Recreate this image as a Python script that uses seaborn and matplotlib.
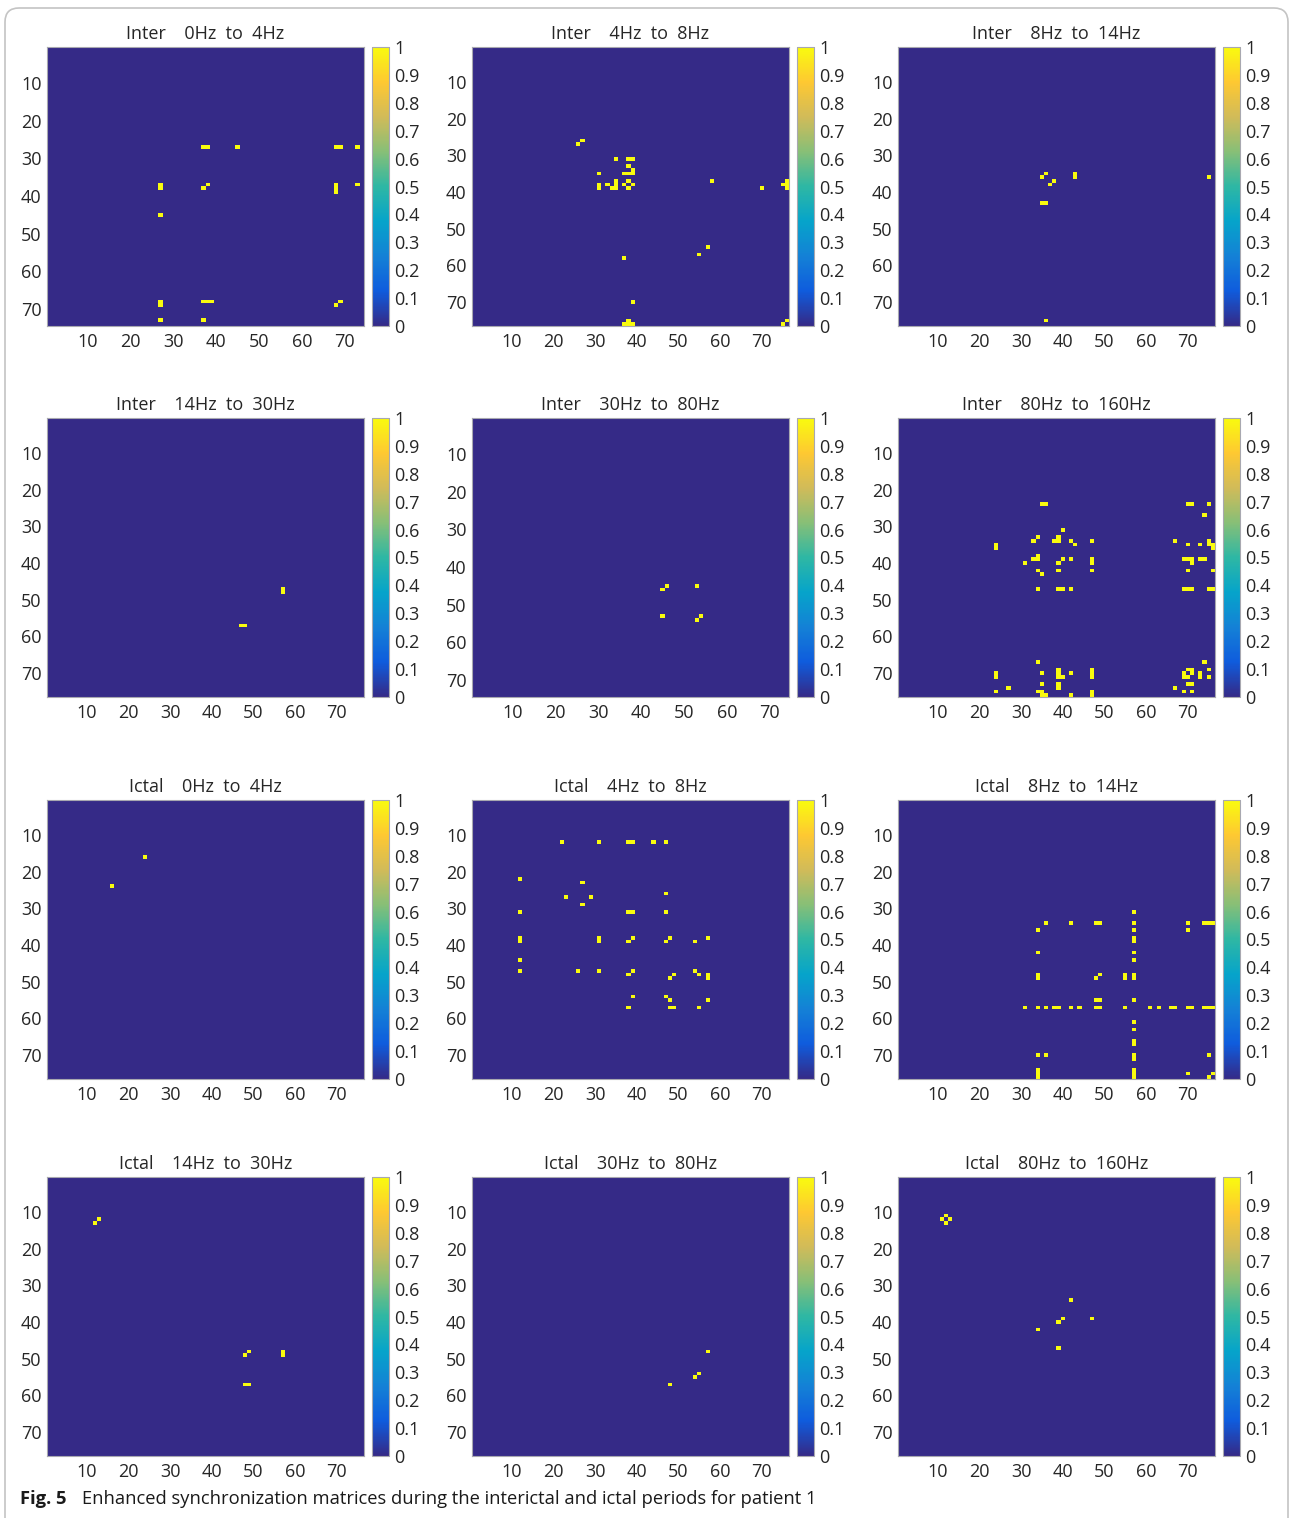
import numpy as np
import matplotlib
matplotlib.use("Agg")
import matplotlib.pyplot as plt
import seaborn as sns
from matplotlib.colors import LinearSegmentedColormap
from matplotlib.patches import FancyBboxPatch
from matplotlib.transforms import IdentityTransform

sns.set_theme(style="white")
plt.rcParams['font.family'] = ['Open Sans', 'DejaVu Sans']

# ---------------- data ----------------
titles = [
    "Inter    0Hz  to  4Hz", "Inter    4Hz  to  8Hz", "Inter    8Hz  to  14Hz",
    "Inter    14Hz  to  30Hz", "Inter    30Hz  to  80Hz", "Inter    80Hz  to  160Hz",
    "Ictal    0Hz  to  4Hz", "Ictal    4Hz  to  8Hz", "Ictal    8Hz  to  14Hz",
    "Ictal    14Hz  to  30Hz", "Ictal    30Hz  to  80Hz", "Ictal    80Hz  to  160Hz",
]
matrix_sizes = [74, 76, 76, 76, 74, 76, 76, 76, 76, 76, 76, 76]

# synchronised channel pairs (1-based channel indices), matrices are symmetric
inter_0_4 = [(27, 37), (27, 38), (27, 45), (27, 68), (27, 69), (27, 73), (37, 38),
             (37, 68), (38, 68), (39, 68), (37, 73), (68, 69)]
inter_4_8 = [(26, 27), (31, 35), (31, 38), (31, 39), (33, 38), (34, 39), (35, 37),
             (35, 38), (35, 39), (37, 38), (38, 39), (37, 58), (39, 70), (38, 75),
             (37, 76), (38, 76), (39, 76), (55, 57), (75, 76)]
inter_8_14 = [(35, 36), (37, 38), (35, 43), (36, 43), (36, 75)]
inter_14_30 = [(47, 57), (48, 57)]
inter_30_80 = [(45, 46), (45, 53), (53, 54)]
inter_80_160 = [(24, 35), (24, 36), (24, 70), (24, 71), (24, 75), (27, 74), (31, 40),
                (33, 34), (33, 39), (34, 38), (34, 39), (34, 42), (34, 47), (34, 67),
                (34, 75), (35, 43), (35, 70), (35, 73), (35, 75), (35, 76), (36, 76),
                (39, 40), (39, 42), (39, 47), (39, 69), (39, 70), (39, 71), (39, 73),
                (39, 74), (40, 47), (40, 71), (42, 47), (42, 70), (42, 76), (47, 69),
                (47, 70), (47, 71), (47, 75), (47, 76), (67, 74), (69, 70), (69, 71),
                (70, 71), (70, 73), (71, 73), (69, 75), (71, 75)]
ictal_0_4 = [(16, 24)]
ictal_4_8 = [(12, 22), (12, 31), (12, 38), (12, 39), (12, 44), (12, 47), (23, 27),
             (26, 47), (27, 29), (31, 38), (31, 39), (31, 47), (38, 39), (38, 48),
             (38, 57), (39, 47), (39, 54), (47, 54), (48, 49), (48, 55), (48, 57),
             (49, 57), (55, 57)]
ictal_8_14 = [(31, 57), (34, 36), (34, 42), (34, 48), (34, 49), (34, 57), (34, 70),
              (34, 74), (34, 75), (34, 76), (36, 57), (36, 70), (38, 57), (39, 57),
              (42, 57), (44, 57), (48, 49), (48, 55), (49, 55), (48, 57), (49, 57),
              (55, 57), (57, 61), (57, 63), (57, 66), (57, 67), (57, 70), (57, 71),
              (57, 74), (57, 75), (57, 76), (70, 75), (75, 76)]
ictal_14_30 = [(12, 13), (48, 49), (48, 57), (49, 57)]
ictal_30_80 = [(48, 57), (54, 55)]
ictal_80_160 = [(11, 12), (12, 13), (34, 42), (39, 40), (39, 47)]

panel_pairs = [inter_0_4, inter_4_8, inter_8_14, inter_14_30, inter_30_80, inter_80_160,
               ictal_0_4, ictal_4_8, ictal_8_14, ictal_14_30, ictal_30_80, ictal_80_160]

axis_ticks = [10, 20, 30, 40, 50, 60, 70]
cbar_ticks = [0, 0.1, 0.2, 0.3, 0.4, 0.5, 0.6, 0.7, 0.8, 0.9, 1]
cbar_labels = ["0", "0.1", "0.2", "0.3", "0.4", "0.5", "0.6", "0.7", "0.8", "0.9", "1"]
caption_bold = "Fig. 5"
caption_text = "Enhanced synchronization matrices during the interictal and ictal periods for patient 1"

# ---------------- style ----------------
parula = LinearSegmentedColormap.from_list("parula", [
    (0.000, "#352A87"), (0.125, "#0F5CDD"), (0.250, "#1481D6"), (0.375, "#06A4CA"),
    (0.500, "#2EB7A4"), (0.625, "#87BF77"), (0.750, "#D1BB59"), (0.875, "#FEC832"),
    (1.000, "#F9FB0E")])

W, H = 1290, 1518
fig = plt.figure(figsize=(W / 100, H / 100), dpi=100)
fig.patch.set_facecolor("white")

col_left = [47, 472, 898]
row_top = [47, 418, 800, 1177]
ax_w, ax_h = 317, 279
cb_off, cb_w = 325, 17
txt_col = "#262626"
fs = 13


def build_matrix(n, pairs):
    m = np.zeros((n, n))
    for i, j in pairs:
        m[i - 1, j - 1] = 1.0
        m[j - 1, i - 1] = 1.0
    return m


for k in range(12):
    r, c = divmod(k, 3)
    x0, y0 = col_left[c], row_top[r]
    ax = fig.add_axes([x0 / W, 1 - (y0 + ax_h) / H, ax_w / W, ax_h / H])
    cax = fig.add_axes([(x0 + cb_off) / W, 1 - (y0 + ax_h) / H, cb_w / W, ax_h / H])
    mat = build_matrix(matrix_sizes[k], panel_pairs[k])
    sns.heatmap(mat, ax=ax, cmap=parula, vmin=0, vmax=1, cbar=True, cbar_ax=cax,
                xticklabels=False, yticklabels=False, rasterized=True,
                cbar_kws={"ticks": cbar_ticks})
    ax.set_xticks([v - 0.5 for v in axis_ticks])
    ax.set_xticklabels([str(v) for v in axis_ticks])
    ax.set_yticks([v - 0.5 for v in axis_ticks])
    ax.set_yticklabels([str(v) for v in axis_ticks], rotation=0)
    ax.tick_params(axis="both", which="both", direction="in", length=3, width=0.6,
                   color="#4a4a6a", top=True, right=True, labelsize=fs,
                   labelcolor=txt_col, pad=4)
    ax.tick_params(axis="x", pad=5)
    for s in ax.spines.values():
        s.set_visible(True)
        s.set_color("#a8a8b0")
        s.set_linewidth(0.8)
    ax.set_title(titles[k], fontsize=fs, pad=6, color=txt_col)

    cax.set_yticks(cbar_ticks)
    cax.set_yticklabels(cbar_labels)
    cax.tick_params(axis="y", direction="in", length=3, width=0.6, color="#4a4a6a",
                    labelsize=fs, labelcolor=txt_col, pad=4, right=True, left=False)
    cbar = ax.collections[0].colorbar
    cbar.outline.set_edgecolor("#a8a8b0")
    cbar.outline.set_linewidth(0.8)

cap_y = 1 - 1499 / H
fig.text(20 / W, cap_y, caption_bold, fontsize=13.2, fontweight="bold", va="center",
         ha="left", color="#1a1a1a")
fig.text(82 / W, cap_y, caption_text, fontsize=13.2, va="center", ha="left", color="#1a1a1a")

border = FancyBboxPatch((5, -20), 1283, 1530, boxstyle="round,pad=0,rounding_size=14",
                        transform=IdentityTransform(), fill=False, edgecolor="#c4c4c4",
                        linewidth=1.2)
fig.add_artist(border)

fig.savefig("out.png", dpi=100)
